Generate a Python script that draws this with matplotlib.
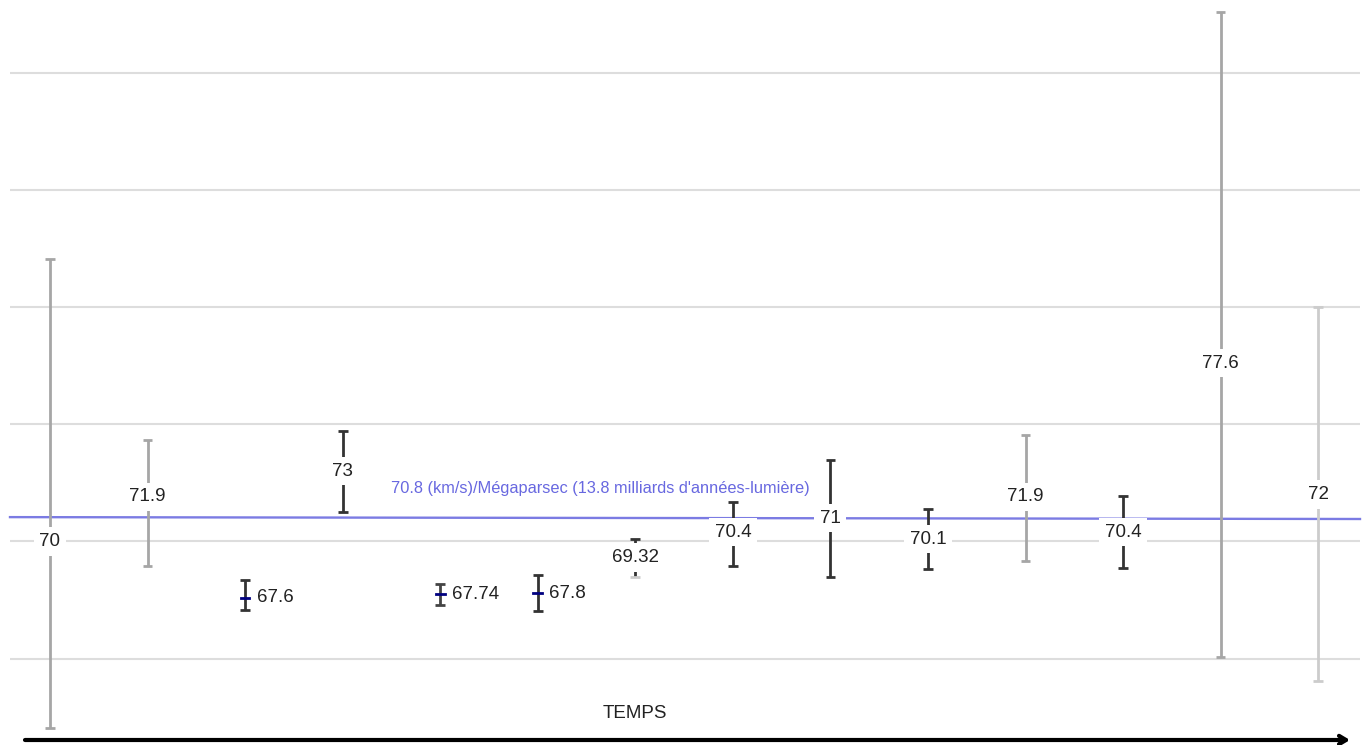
import matplotlib
matplotlib.use("Agg")
import matplotlib.pyplot as plt

plt.rcParams['font.family'] = ['Liberation Sans', 'DejaVu Sans']

# ---- data ----
values = [70, 71.9, 67.6, 73, 67.74, 67.8, 69.32, 70.4, 71, 70.1, 71.9, 70.4, 77.6, 72]
labels = ["70", "71.9", "67.6", "73", "67.74", "67.8", "69.32", "70.4", "71", "70.1", "71.9", "70.4", "77.6", "72"]
upper = [82.05, 74.33, 68.36, 74.71, 68.19, 68.57, 70.11, 71.69, 73.48, 71.39, 74.54, 71.94, 92.59, 80.0]
lower = [62.04, 68.95, 67.08, 71.26, 67.29, 67.04, 68.49, 68.95, 68.49, 68.83, 69.17, 68.87, 65.07, 64.04]
bar_colors = ["#a6a6a6", "#a6a6a6", "#333333", "#333333", "#444444", "#333333", "#333333",
              "#333333", "#333333", "#333333", "#a6a6a6", "#333333", "#a6a6a6", "#cccccc"]
lower_cap_colors = ["#a6a6a6", "#a6a6a6", "#333333", "#333333", "#444444", "#333333", "#cccccc",
                    "#333333", "#333333", "#333333", "#a6a6a6", "#333333", "#a6a6a6", "#cccccc"]
side_label = [False, False, True, False, True, True, False, False, False, False, False, False, False, False]
grid_values = [65, 70, 75, 80, 85, 90]
ref_line = [71.04, 70.96]
ref_text = "70.8 (km/s)/Mégaparsec (13.8 milliards d'années-lumière)"
axis_text = "TEMPS"

W, H = 1365, 745
fig = plt.figure(figsize=(W / 100, H / 100), dpi=100)
ax = fig.add_axes([0, 0, 1, 1])
ax.set_axis_off()

px_per_x = 97.55
x0_px = 50
ax.set_xlim(-x0_px / px_per_x, (W - x0_px) / px_per_x)
px_per_y = 23.44
y70_px = 541.5
ax.set_ylim(70 - (H - y70_px) / px_per_y, 70 + y70_px / px_per_y)

xg0 = (10 - x0_px) / px_per_x
xg1 = (1360 - x0_px) / px_per_x

# gridlines
ax.hlines(grid_values, xg0, xg1, colors="#dddddd", linewidth=1.5, zorder=1)

# reference line
ax.plot([xg0, xg1], ref_line, color="#7b7be3", linewidth=1.7, zorder=2)
ax.text((600 - x0_px) / px_per_x, 70 + (y70_px - 489) / px_per_y, ref_text,
        color="#6868e0", fontsize=11.8, ha="center", va="center", zorder=3)

# error bars
for i, (v, up, lo, c, lc) in enumerate(zip(values, upper, lower, bar_colors, lower_cap_colors)):
    ax.vlines(i, lo, up, colors=c, linewidth=2, zorder=4)
    cw = 0.05
    ax.hlines([up], i - cw, i + cw, colors=c, linewidth=2, zorder=4)
    ax.hlines([lo], i - cw, i + cw, colors=lc, linewidth=2, zorder=4)
    if side_label[i]:
        ax.plot([i - 0.045, i + 0.045], [v, v], color="#000080", linewidth=2, zorder=5)
        ax.text(i + 0.12, v, labels[i], fontsize=13.5, color="#222222",
                ha="left", va="center", zorder=6)
    else:
        ax.text(i, v, labels[i], fontsize=13.5, color="#222222", ha="center", va="center",
                zorder=6,
                bbox=dict(boxstyle="square,pad=0.3", facecolor="white", edgecolor="none"))

# time arrow
ax.annotate("", xy=(1350 / W, 1 - 740 / H), xytext=(25 / W, 1 - 740 / H),
            xycoords="axes fraction", textcoords="axes fraction",
            arrowprops=dict(arrowstyle="->,head_length=0.5,head_width=0.3",
                            color="black", linewidth=3, shrinkA=0, shrinkB=0))
ax.text(635 / W, 1 - 713 / H, axis_text, transform=ax.transAxes, fontsize=13.5,
        color="#222222", ha="center", va="center")

fig.savefig("out.png", dpi=100)
